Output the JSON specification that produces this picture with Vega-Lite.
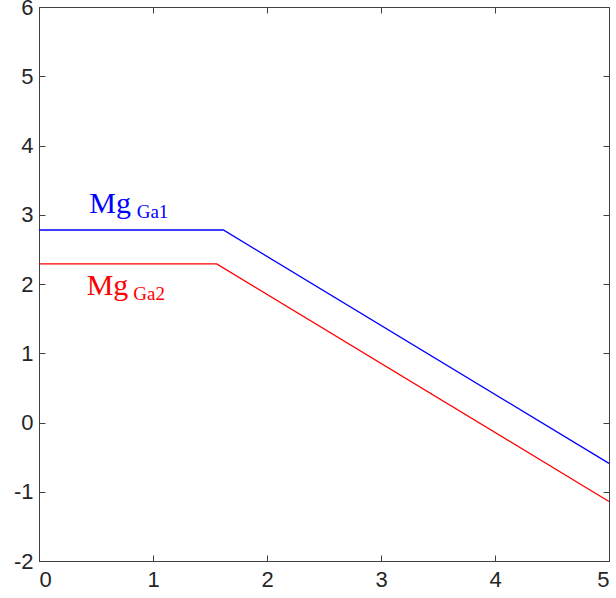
{
  "$schema": "https://vega.github.io/schema/vega-lite/v6.json",
  "width": 570,
  "height": 554,
  "autosize": {"type": "none"},
  "padding": {"left": 39, "top": 7, "right": 7, "bottom": 37},
  "background": "white",
  "config": {
    "view": {"stroke": "#404040", "strokeWidth": 1},
    "axis": {
      "grid": false,
      "domainColor": "#404040",
      "tickColor": "#404040",
      "tickSize": -6,
      "labelFont": "Liberation Sans",
      "labelFontSize": 22,
      "labelColor": "#262626",
      "title": null
    }
  },
  "datasets": {
    "lines": [
      {"x": 0, "y": 2.78, "series": "Ga1"},
      {"x": 1.617, "y": 2.78, "series": "Ga1"},
      {"x": 5, "y": -0.59, "series": "Ga1"},
      {"x": 0, "y": 2.29, "series": "Ga2"},
      {"x": 1.559, "y": 2.29, "series": "Ga2"},
      {"x": 5, "y": -1.14, "series": "Ga2"}
    ],
    "main": [
      {"x": 0.441, "y": 3.02, "text": "Mg", "series": "Ga1"},
      {"x": 0.418, "y": 1.84, "text": "Mg", "series": "Ga2"}
    ],
    "sub": [
      {"x": 0.857, "y": 2.957, "text": "Ga1", "series": "Ga1"},
      {"x": 0.827, "y": 1.77, "text": "Ga2", "series": "Ga2"}
    ]
  },
  "layer": [
    {
      "data": {"name": "lines"},
      "mark": {"type": "line", "strokeWidth": 1.3},
      "encoding": {
        "x": {"field": "x", "type": "quantitative", "scale": {"domain": [0, 5], "nice": false},
              "axis": {"orient": "bottom", "values": [0, 1, 2, 3, 4, 5], "labelPadding": 14, "labelExpr": "'' + datum.value"}},
        "y": {"field": "y", "type": "quantitative", "scale": {"domain": [-2, 6], "nice": false},
              "axis": {"orient": "left", "values": [-2, -1, 0, 1, 2, 3, 4, 5, 6], "labelPadding": 12, "labelExpr": "'' + datum.value"}},
        "color": {"field": "series", "type": "nominal", "scale": {"domain": ["Ga1", "Ga2"], "range": ["#0000ff", "#ff0000"]}, "legend": null},
        "detail": {"field": "series"}
      }
    },
    {
      "data": {"name": "main"},
      "mark": {"type": "text", "align": "left", "baseline": "alphabetic", "font": "Liberation Serif", "fontSize": 30},
      "encoding": {
        "x": {"field": "x", "type": "quantitative", "axis": null},
        "y": {"field": "y", "type": "quantitative", "axis": null},
        "text": {"field": "text"},
        "color": {"field": "series", "type": "nominal", "scale": {"domain": ["Ga1", "Ga2"], "range": ["#0000ff", "#ff0000"]}, "legend": null}
      }
    },
    {
      "data": {"name": "sub"},
      "mark": {"type": "text", "align": "left", "baseline": "alphabetic", "font": "Liberation Serif", "fontSize": 19},
      "encoding": {
        "x": {"field": "x", "type": "quantitative", "axis": null},
        "y": {"field": "y", "type": "quantitative", "axis": null},
        "text": {"field": "text"},
        "color": {"field": "series", "type": "nominal", "scale": {"domain": ["Ga1", "Ga2"], "range": ["#0000ff", "#ff0000"]}, "legend": null}
      }
    },
    {
      "data": {"name": "lines"},
      "mark": {"type": "point", "opacity": 0},
      "encoding": {
        "x": {"field": "x", "type": "quantitative",
              "axis": {"orient": "top", "values": [0, 1, 2, 3, 4, 5], "labels": false, "domain": false}},
        "y": {"field": "y", "type": "quantitative",
              "axis": {"orient": "right", "values": [-2, -1, 0, 1, 2, 3, 4, 5, 6], "labels": false, "domain": false}}
      }
    }
  ],
  "resolve": {"axis": {"x": "independent", "y": "independent"}}
}
